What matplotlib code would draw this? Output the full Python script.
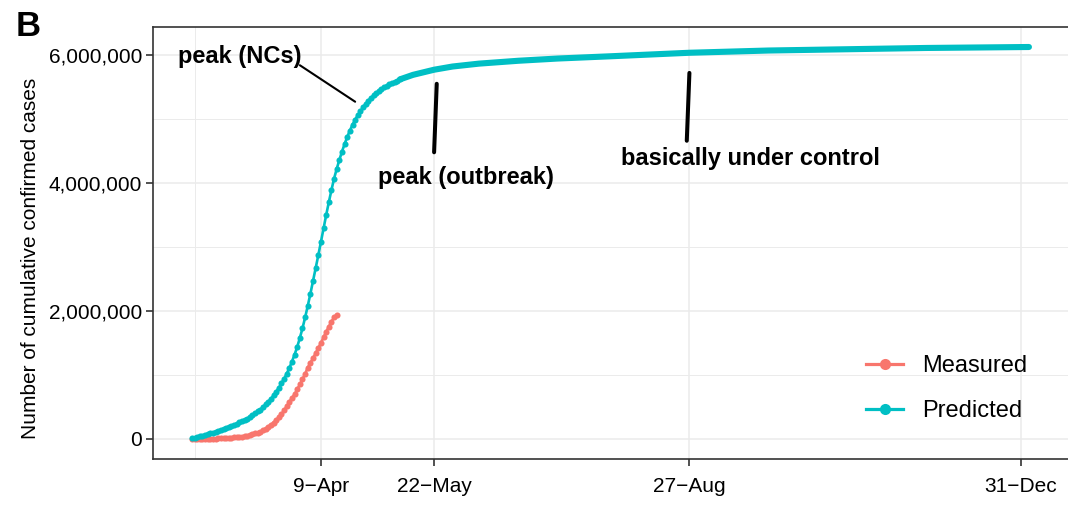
import datetime as dt
import numpy as np
import matplotlib
matplotlib.use("Agg")
import matplotlib.pyplot as plt
import matplotlib.dates as mdates
from matplotlib.lines import Line2D

plt.rcParams['font.family'] = ['Liberation Sans', 'DejaVu Sans']

# ---------------- data ----------------
measured_start = "2020-02-20"
# cumulative confirmed cases (daily, 20-Feb .. 15-Apr)
measured_values = [
    1100, 1300, 1500, 1900, 2200, 2700, 3300, 4300, 5600, 7100,
    8700, 10600, 12700, 15000, 17500, 21200, 25400, 29900, 33500, 38000,
    45000, 52600, 64000, 75000, 87000, 100000, 117000, 136000, 162000, 194000,
    224000, 255000, 297000, 336000, 386000, 447000, 511000, 580000, 640000, 700000,
    776000, 853000, 934000, 1018000, 1117000, 1191000, 1262000, 1342000, 1420000, 1502000,
    1589000, 1677000, 1754000, 1834000, 1900000, 1940000,
]

predicted_start = "2020-02-20"
# predicted cumulative cases, daily 20-Feb .. 9-May (millions)
predicted_daily_m = [
    0.012, 0.022, 0.032, 0.042, 0.053, 0.064, 0.076, 0.088, 0.100, 0.115,
    0.130, 0.145, 0.160, 0.175, 0.190, 0.205, 0.220, 0.240, 0.260, 0.280,
    0.300, 0.320, 0.345, 0.370, 0.400, 0.430, 0.460, 0.500, 0.540, 0.580,
    0.630, 0.680, 0.740, 0.800, 0.870, 0.940, 1.020, 1.110, 1.210, 1.320,
    1.440, 1.580, 1.730, 1.900, 2.080, 2.270, 2.470, 2.670, 2.870, 3.080,
    3.290, 3.500, 3.700, 3.890, 4.070, 4.220, 4.360, 4.490, 4.610, 4.720,
    4.820, 4.910, 4.990, 5.060, 5.120, 5.180, 5.235, 5.285, 5.330, 5.370,
    5.405, 5.437, 5.466, 5.493, 5.518, 5.541, 5.562, 5.582, 5.601, 5.619,
]
# later predictions (sparse read-off points)
predicted_tail_dates = ["2020-05-09", "2020-05-14", "2020-05-22", "2020-05-29", "2020-06-08",
                        "2020-06-23", "2020-07-08", "2020-07-28", "2020-08-27", "2020-09-26",
                        "2020-10-26", "2020-11-25", "2021-01-03"]
predicted_tail_m = [5.619, 5.690, 5.770, 5.820, 5.865,
                    5.910, 5.945, 5.980, 6.035, 6.070,
                    6.090, 6.110, 6.125]

tick_dates = ["2020-04-09", "2020-05-22", "2020-08-27", "2020-12-31"]
tick_labels = ["9\u2212Apr", "22\u2212May", "27\u2212Aug", "31\u2212Dec"]
minor_tick_dates = ["2020-02-21"]
y_ticks = [0, 2_000_000, 4_000_000, 6_000_000]
y_tick_labels = ["0", "2,000,000", "4,000,000", "6,000,000"]
y_minor = [1_000_000, 3_000_000, 5_000_000]

annotations = [
    # text, text date, text value, line start (date, value), line end (date, value), lw
    ("peak (NCs)", "2020-03-09", 5.97e6, ("2020-04-01", 5.84e6), ("2020-04-22", 5.27e6), 1.5),
    ("peak (outbreak)", "2020-06-03", 4.08e6, ("2020-05-23", 5.55e6), ("2020-05-22", 4.48e6), 2.9),
    ("basically under control", "2020-09-19", 4.39e6, ("2020-08-27", 5.72e6), ("2020-08-26", 4.66e6), 2.9),
]

RED = "#F8766D"
TEAL = "#00BFC4"


def d(s):
    return mdates.date2num(dt.datetime.strptime(s, "%Y-%m-%d"))


meas_x = d(measured_start) + np.arange(len(measured_values))
pred_x = d(predicted_start) + np.arange(len(predicted_daily_m))
tail_x = np.array([d(s) for s in predicted_tail_dates])

# ---------------- figure ----------------
W, H = 1068, 505
fig = plt.figure(figsize=(W / 100, H / 100), dpi=100)
ax = fig.add_axes([153 / W, 46 / H, (1070 - 153) / W, 432 / H])

# grid
for t in tick_dates + minor_tick_dates:
    ax.axvline(d(t), color="#EBEBEB", lw=1.1 if t in tick_dates else 0.7, zorder=0)
for v in y_ticks:
    ax.axhline(v, color="#EBEBEB", lw=1.1, zorder=0)
for v in y_minor:
    ax.axhline(v, color="#EBEBEB", lw=0.7, zorder=0)

ms = 4.4
# measured
ax.plot(meas_x, measured_values, color=RED, lw=1.9, marker="o", ms=ms, mew=0, zorder=3)
# predicted
pred_vals = np.array(predicted_daily_m) * 1e6
tail_vals = np.array(predicted_tail_m) * 1e6
ax.plot(tail_x, tail_vals, color=TEAL, lw=4.4, solid_capstyle="round", zorder=3)
ax.plot(pred_x, pred_vals, color=TEAL, lw=1.9, marker="o", ms=ms, mew=0, zorder=4)

# annotations
for text, tx, ty, (sx, sy), (ex, ey), lw in annotations:
    ax.text(d(tx), ty, text, fontsize=17, fontweight="bold", ha="center", va="center", zorder=5)
    ax.plot([d(sx), d(ex)], [sy, ey], color="black", lw=lw, solid_capstyle="round", zorder=5)

# limits
x0 = d("2020-04-09")
ax.set_xlim(x0 - 63.8, x0 + 284.6)
ax.set_ylim(-0.3125e6, 6.4375e6)

ax.set_xticks([d(t) for t in tick_dates])
ax.set_xticklabels(tick_labels)
ax.set_yticks(y_ticks)
ax.set_yticklabels(y_tick_labels)
ax.tick_params(axis="both", labelsize=15, length=5, width=1.2, color="#333333",
               labelcolor="black", direction="out")
ax.tick_params(axis="x", pad=8)
ax.tick_params(axis="y", pad=3)
ax.set_ylabel("Number of cumulative confirmed cases", fontsize=15, labelpad=6, y=0.465)

for sp in ax.spines.values():
    sp.set_color("#333333")
    sp.set_linewidth(1.2)

# legend
handles = [Line2D([0], [0], color=RED, lw=2.3, marker="o", ms=8, mew=0),
           Line2D([0], [0], color=TEAL, lw=2.3, marker="o", ms=8, mew=0)]
leg = ax.legend(handles, ["Measured", "Predicted"], loc="center left",
                bbox_to_anchor=((866 - 153) / (1070 - 153), (459 - 388.5) / 432),
                frameon=False, fontsize=17, handlelength=1.57, handletextpad=0.8,
                labelspacing=0.97, borderpad=0, borderaxespad=0)

fig.text(16 / W, 1 - 26 / H, "B", fontsize=25, fontweight="bold", ha="left", va="center")

fig.savefig("out.png", dpi=100)
